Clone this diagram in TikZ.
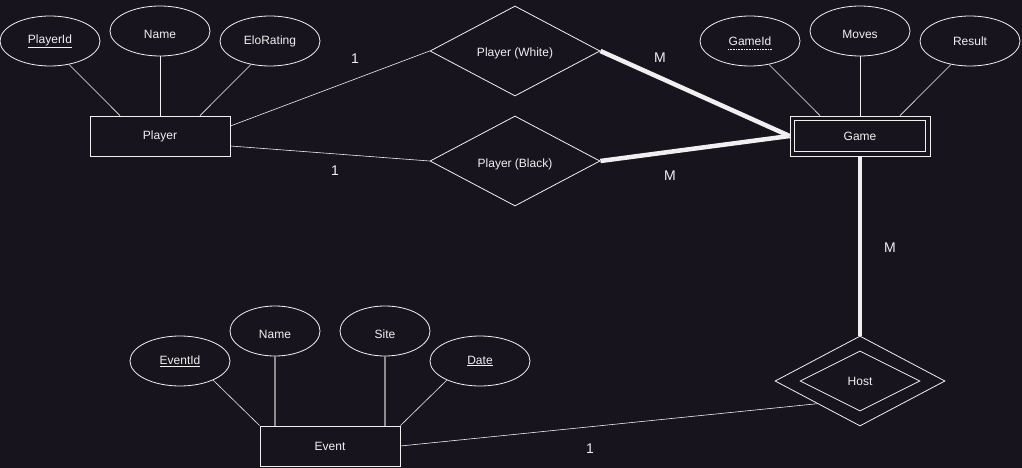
\documentclass[tikz,border=0pt]{standalone}
\usepackage{fontspec}
\setmainfont{Liberation Sans}
\usetikzlibrary{shapes.geometric,calc}
\definecolor{bg}{RGB}{24,20,29}
\definecolor{fg}{RGB}{240,240,240}
\definecolor{grayline}{RGB}{140,140,140}
\tikzset{
  every node/.style={text=fg, font=\fontsize{12}{14}\selectfont},
  attr/.style={ellipse, draw=fg, line width=0.8pt, minimum width=100pt, minimum height=50pt, inner sep=0pt},
  attrs/.style={attr, minimum width=90pt},
  lowtext/.style={text height=14.5pt, text depth=0pt},
  entity/.style={rectangle, draw=fg, line width=0.8pt, minimum width=140pt, minimum height=40pt, inner sep=0pt},
  rel/.style={diamond, draw=fg, line width=0.8pt, minimum width=170pt, minimum height=90pt, inner sep=0pt},
  conn/.style={draw=fg, line width=0.6pt},
  thickconn/.style={draw=fg, line width=4.5pt},
  grayconn/.style={draw=grayline, line width=1.5pt},
  card/.style={font=\fontsize{14}{16}\selectfont},
}
\begin{document}
\begin{tikzpicture}[x=1pt,y=-1pt]
\fill[bg] (0,0) rectangle (1022,468);
\useasboundingbox (0,0) rectangle (1022,468);

% Player and attributes
\node[attr] (pid) at (50,41) {\underline{PlayerId}};
\node[attr, lowtext] (pname) at (160,31) {Name};
\node[attr] (elo) at (270,41) {EloRating};
\node[entity] (player) at (160,136) {Player};

% Game and attributes
\node[attr] (gid) at (750,41) {GameId};
\draw[fg, densely dotted, line width=0.6pt] ([xshift=-22pt,yshift=-8pt]gid.center) -- ([xshift=22pt,yshift=-8pt]gid.center);
\node[attr, lowtext] (moves) at (860,31) {Moves};
\node[attr] (result) at (970,41) {Result};
\node[entity] (game) at (860,136) {Game};
\draw[fg, line width=0.8pt] ([shift={(5,5)}]game.north west) rectangle ([shift={(-5,-5)}]game.south east);

% Relationships
\node[rel, text height=12pt, text depth=0pt] (white) at (515,51) {Player (White)};
\node[rel, text height=12pt, text depth=0pt] (black) at (515,161) {Player (Black)};
\node[rel] (host) at (860,381) {Host};
\node[diamond, draw=fg, line width=0.8pt, minimum width=120pt, minimum height=60pt, inner sep=0pt] (hostin) at (860,381) {};

% Event and attributes
\node[attr] (eid) at (180,361) {\underline{EventId}};
\node[attrs, lowtext] (ename) at (275,331) {Name};
\node[attrs, lowtext] (site) at (385,331) {Site};
\node[attr] (date) at (480,361) {\underline{Date}};
\node[entity] (event) at (330,446) {Event};

% attribute connectors
\draw[conn] (pid.-51) -- ([xshift=-40pt]player.north);
\draw[conn] (pname.south) -- (player.north);
\draw[conn] (elo.-129) -- ([xshift=40pt]player.north);
\draw[conn] (gid.-51) -- ([xshift=-40pt]game.north);
\draw[conn] (moves.south) -- (game.north);
\draw[conn] (result.-129) -- ([xshift=40pt]game.north);
\draw[conn] (eid.-30) -- (event.north west);
\draw[grayconn] (ename.south) -- ([xshift=-55pt]event.north);
\draw[grayconn] (site.south) -- ([xshift=55pt]event.north);
\draw[conn] (date.-150) -- (event.north east);

% relationship connectors
\draw[conn] ([yshift=10pt]player.east) -- (white.west);
\draw[conn] ([yshift=-10pt]player.east) -- (black.west);
\draw[thickconn] (white.east) -- (game.west);
\draw[thickconn] (black.east) -- (game.west);
\draw[thickconn] (game.south) -- (host.north);
\draw[conn] (event.east) -- (host.south west);

% cardinalities
\node[card] (c1) at (355,59) {1};
\node[card] (c2) at (335,171) {1};
\node[card] (c3) at (660,58) {M};
\node[card] (c4) at (670,176) {M};
\node[card] (c5) at (890,248) {M};
\node[card] (c6) at (590,449) {1};
\end{tikzpicture}
\end{document}
